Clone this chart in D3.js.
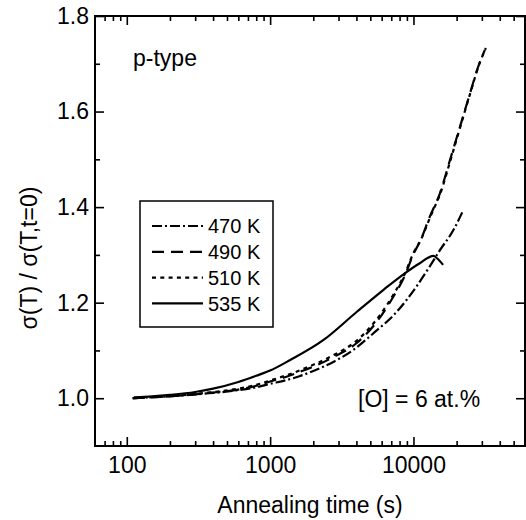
<!DOCTYPE html>
<html>
<head>
<meta charset="utf-8">
<script src="https://cdnjs.cloudflare.com/ajax/libs/d3/7.8.5/d3.min.js"></script>
<style>
	body { margin: 0; background: #fff; }
	svg text { font-family: "Liberation Sans", Arial, sans-serif; fill: #000; }
</style>
</head>
<body>
<div id="graphic"></div>
<script>

// annealing time (s) and normalised conductivity
var t470 = [110,150,200,300,400,600,800,1000,1300,1600,2000,2800,3800,5260,7650,10500,13000,15300,19000,22200];
var v470 = [1.000,1.002,1.004,1.008,1.011,1.017,1.023,1.030,1.038,1.046,1.057,1.077,1.101,1.136,1.181,1.234,1.276,1.310,1.352,1.393];

var t490 = [110,150,200,300,400,600,800,1000,1300,1600,2000,2800,4000,5900,7250,8750,10000,11100,13000,15300,18000,21100,24800,28300,31500];
var v490 = [1.000,1.002,1.004,1.008,1.012,1.018,1.026,1.035,1.045,1.055,1.066,1.087,1.115,1.171,1.213,1.258,1.302,1.328,1.380,1.429,1.499,1.568,1.638,1.694,1.729];

var t510 = [110,150,200,300,400,600,800,1000,1300,1600,2000,2800,4000,5900,7250,8750,10000,11200,13200,15500,18200,21300,25000,28600,32000];
var v510 = [1.000,1.002,1.004,1.009,1.013,1.020,1.028,1.037,1.048,1.058,1.070,1.091,1.120,1.176,1.217,1.262,1.304,1.330,1.382,1.431,1.500,1.570,1.640,1.697,1.733];

var t535 = [112,150,200,300,400,600,800,1000,1380,2360,4030,6180,8750,11000,13800,14600,16100];
var v535 = [1.002,1.004,1.007,1.013,1.020,1.034,1.047,1.058,1.080,1.122,1.181,1.227,1.262,1.282,1.298,1.293,1.279];

var seriesNames = ["470 K","490 K","510 K","535 K"];
var seriesDash = ["10,3,2,3","12,7","4,4.3",null];

var xMajor = [100,1000,10000];
var xMinor = [70,80,90,200,300,400,500,600,700,800,900,2000,3000,4000,5000,6000,7000,8000,9000,20000,30000,40000,50000];
var yMajor = [1.0,1.2,1.4,1.6,1.8];
var yMinor = [1.1,1.3,1.5,1.7];

var width = 526, height = 520;
var margin = {top: 16, right: 1, bottom: 74, left: 95};

var svg = d3.select("#graphic").append("svg")
	.attr("width", width)
	.attr("height", height);

var x = d3.scaleLog()
	.domain([60, 60000])
	.range([margin.left, width - margin.right]);

var y = d3.scaleLinear()
	.domain([0.9, 1.8])
	.range([height - margin.bottom, margin.top]);

var x0 = x.range()[0], x1 = x.range()[1];
var y0 = y.range()[0], y1 = y.range()[1];

function styleAxis(g) {
	g.select(".domain").remove();
	g.selectAll(".tick line").attr("stroke", "#000").attr("stroke-width", 1.6);
	g.selectAll(".tick text").style("font-size", "23px");
}

// bottom
svg.append("g").attr("transform", "translate(0," + y0 + ")")
	.call(d3.axisBottom(x).tickValues(xMajor).tickSize(-9).tickPadding(11).tickFormat(d3.format("d")))
	.call(styleAxis);
svg.append("g").attr("transform", "translate(0," + y0 + ")")
	.call(d3.axisBottom(x).tickValues(xMinor).tickSize(-5).tickFormat(""))
	.call(styleAxis);
// top
svg.append("g").attr("transform", "translate(0," + y1 + ")")
	.call(d3.axisTop(x).tickValues(xMajor).tickSize(-9).tickFormat(""))
	.call(styleAxis);
svg.append("g").attr("transform", "translate(0," + y1 + ")")
	.call(d3.axisTop(x).tickValues(xMinor).tickSize(-5).tickFormat(""))
	.call(styleAxis);
// left
svg.append("g").attr("transform", "translate(" + x0 + ",0)")
	.call(d3.axisLeft(y).tickValues(yMajor).tickSize(-9).tickPadding(6).tickFormat(d3.format(".1f")))
	.call(styleAxis);
svg.append("g").attr("transform", "translate(" + x0 + ",0)")
	.call(d3.axisLeft(y).tickValues(yMinor).tickSize(-5).tickFormat(""))
	.call(styleAxis);
// right
svg.append("g").attr("transform", "translate(" + x1 + ",0)")
	.call(d3.axisRight(y).tickValues(yMajor).tickSize(-9).tickFormat(""))
	.call(styleAxis);
svg.append("g").attr("transform", "translate(" + x1 + ",0)")
	.call(d3.axisRight(y).tickValues(yMinor).tickSize(-5).tickFormat(""))
	.call(styleAxis);

svg.append("rect")
	.attr("x", x0)
	.attr("y", y1)
	.attr("width", x1 - x0)
	.attr("height", y0 - y1)
	.attr("fill", "none")
	.attr("stroke", "#000")
	.attr("stroke-width", 2);

var line = d3.line()
	.x(function(d) { return x(d[0]); })
	.y(function(d) { return y(d[1]); })
	.curve(d3.curveMonotoneX);

var series = [d3.zip(t470, v470), d3.zip(t490, v490), d3.zip(t510, v510), d3.zip(t535, v535)];

svg.append("g").selectAll("path")
	.data(series)
	.enter().append("path")
	.attr("d", line)
	.attr("fill", "none")
	.attr("stroke", "#000")
	.attr("stroke-width", 2.2)
	.attr("stroke-dasharray", function(d, i) { return seriesDash[i]; });

// legend
var legend = svg.append("g").attr("transform", "translate(140,201)");

legend.append("rect")
	.attr("width", 133)
	.attr("height", 126)
	.attr("fill", "#fff")
	.attr("stroke", "#000")
	.attr("stroke-width", 1.5);

var item = legend.selectAll(".item")
	.data(seriesNames)
	.enter().append("g")
	.attr("class", "item")
	.attr("transform", function(d, i) { return "translate(0," + (25 + i * 25.8) + ")"; });

item.append("line")
	.attr("x1", 12)
	.attr("x2", 63)
	.attr("stroke", "#000")
	.attr("stroke-width", 2.2)
	.attr("stroke-dasharray", function(d, i) { return seriesDash[i]; });

item.append("text")
	.attr("x", 68)
	.attr("dy", "0.36em")
	.style("font-size", "20px")
	.text(function(d) { return d; });

svg.append("text")
	.attr("x", 133)
	.attr("y", 66)
	.style("font-size", "23px")
	.text("p-type");

svg.append("text")
	.attr("x", 358)
	.attr("y", 407)
	.style("font-size", "23px")
	.text("[O] = 6 at.%");

svg.append("text")
	.attr("x", (x0 + x1) / 2)
	.attr("y", 513)
	.attr("text-anchor", "middle")
	.style("font-size", "23px")
	.text("Annealing time (s)");

svg.append("text")
	.attr("transform", "translate(37," + ((y0 + y1) / 2 + 27) + ") rotate(-90)")
	.attr("text-anchor", "middle")
	.style("font-size", "23px")
	.text("σ(T) / σ(T,t=0)");

</script>
</body>
</html>
